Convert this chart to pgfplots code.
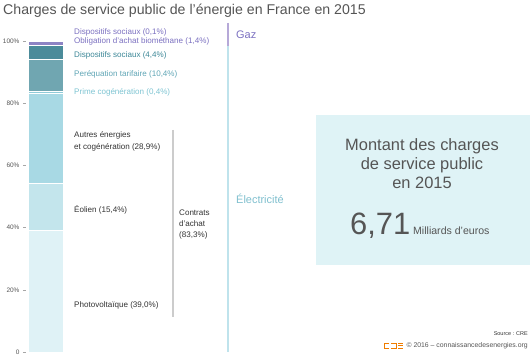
\documentclass[border=0pt]{standalone}
\usepackage{pgfplots}
\pgfplotsset{compat=1.18}
\usepackage{fontspec}
\setmainfont{Liberation Sans}
\definecolor{cph}{HTML}{DFF2F6}
\definecolor{ceol}{HTML}{C3E5EC}
\definecolor{caut}{HTML}{A8D9E4}
\definecolor{cprime}{HTML}{8FCBD8}
\definecolor{cpereq}{HTML}{70A6B1}
\definecolor{cdisp}{HTML}{4B8B9A}
\definecolor{cbio}{HTML}{8D84C4}
\definecolor{cdispg}{HTML}{6B61A8}
\definecolor{tpurple}{HTML}{7B70C0}
\definecolor{tdisp}{HTML}{3C8797}
\definecolor{tpereq}{HTML}{5FA5B5}
\definecolor{tprime}{HTML}{7EC4D2}
\definecolor{tgray}{HTML}{555555}
\definecolor{tdark}{HTML}{333333}
\definecolor{boxc}{HTML}{DFF3F6}
\definecolor{lpurple}{HTML}{B6A9D8}
\definecolor{lblue}{HTML}{BFE3EC}
\definecolor{elec}{HTML}{7FBFCE}
\definecolor{orangec}{HTML}{F07D00}
\begin{document}
\begin{tikzpicture}
\useasboundingbox (0,0) rectangle (530bp,357bp);
\begin{axis}[
  at={(26bp,5bp)}, anchor=south west,
  scale only axis, width=37bp, height=311bp,
  xmin=0, xmax=37, ymin=0, ymax=100,
  ybar stacked, bar width=35bp,
  hide x axis,
  axis y line*=left,
  y axis line style={draw=none},
  ytick={0,20,40,60,80,100},
  yticklabels={0,20\%,40\%,60\%,80\%,100\%},
  tick align=outside, major tick length=3bp,
  tick style={draw=gray!70, line width=0.5bp},
  yticklabel style={font=\fontsize{6.5}{7}\selectfont, text=tgray},
  /pgf/number format/assume math mode=true,
  clip=false,
  every axis plot/.append style={draw=white, line width=0.6bp},
]
\addplot[fill=cph] coordinates {(19.5,39.0)};
\addplot[fill=ceol] coordinates {(19.5,15.4)};
\addplot[fill=caut] coordinates {(19.5,28.9)};
\addplot[fill=cprime] coordinates {(19.5,0.4)};
\addplot[fill=cpereq] coordinates {(19.5,10.4)};
\addplot[fill=cdisp] coordinates {(19.5,4.4)};
\addplot[fill=cbio] coordinates {(19.5,1.4)};
\addplot[fill=cdispg] coordinates {(19.5,0.1)};
\end{axis}
\begin{scope}[x=1bp, y=-1bp, yshift=357bp]
% title
\node[anchor=west, inner sep=0, text=tgray, font=\fontsize{14.2}{16}\selectfont] at (3,11) {Charges de service public de l’énergie en France en 2015};
% labels
\begin{scope}[every node/.style={anchor=west, inner sep=0, font=\fontsize{8.1}{10}\selectfont}]
\node[text=tpurple] at (74,32) {Dispositifs sociaux (0,1\%)};
\node[text=tpurple] at (74,41) {Obligation d’achat biométhane (1,4\%)};
\node[text=tdisp] at (74,55) {Dispositifs sociaux (4,4\%)};
\node[text=tpereq] at (74,74) {Peréquation tarifaire (10,4\%)};
\node[text=tprime] at (74,92) {Prime cogénération (0,4\%)};
\node[text=tdark] at (74,135) {Autres énergies};
\node[text=tdark] at (74,147) {et cogénération (28,9\%)};
\node[text=tdark] at (74,210) {Éolien (15,4\%)};
\node[text=tdark] at (74,305) {Photovoltaïque (39,0\%)};
\node[text=tdark] at (179,213) {Contrats};
\node[text=tdark] at (179,224) {d’achat};
\node[text=tdark] at (179,235) {(83,3\%)};
\end{scope}
% bracket
\draw[gray!40, line width=2bp] (173,130) -- (173,317);
% vertical separator
\draw[lpurple, line width=2bp] (228,23) -- (228,46);
\draw[lblue, line width=2bp] (228,46) -- (228,352);
\node[anchor=west, inner sep=0, text=tpurple, font=\fontsize{11}{13}\selectfont] at (236,35) {Gaz};
\node[anchor=west, inner sep=0, text=elec, font=\fontsize{11}{13}\selectfont] at (236,199) {Électricité};
% box
\fill[boxc] (316,115) rectangle (530,265);
\node[align=center, inner sep=0, text=tgray, font=\fontsize{16.5}{19}\selectfont] at (422,164) {Montant des charges\\de service public\\en 2015};
\node[anchor=base west, inner sep=0, text=tgray, font=\fontsize{31}{34}\selectfont] at (350,235) {6,71};
\node[anchor=base west, inner sep=0, text=tgray, font=\fontsize{10.6}{12}\selectfont] at (413,235) {Milliards d’euros};
% footer
\node[anchor=east, inner sep=0, text=tdark, font=\fontsize{5.5}{7}\selectfont] at (528,334) {Source : CRE};
\node[anchor=east, inner sep=0, text=tgray, font=\fontsize{6.9}{8}\selectfont] at (528,346) {© 2016 – connaissancedesenergies.org};
\begin{scope}[orangec, line width=1bp]
\draw (389,343.5) -- (384,343.5) -- (384,348.5) -- (389,348.5);
\draw (391,343.5) -- (396,343.5) -- (396,348.5) -- (391,348.5);
\draw (398,343.5) -- (403,343.5) (398,346) -- (403,346) (398,348.5) -- (403,348.5);
\end{scope}
\end{scope}
\end{tikzpicture}
\end{document}
